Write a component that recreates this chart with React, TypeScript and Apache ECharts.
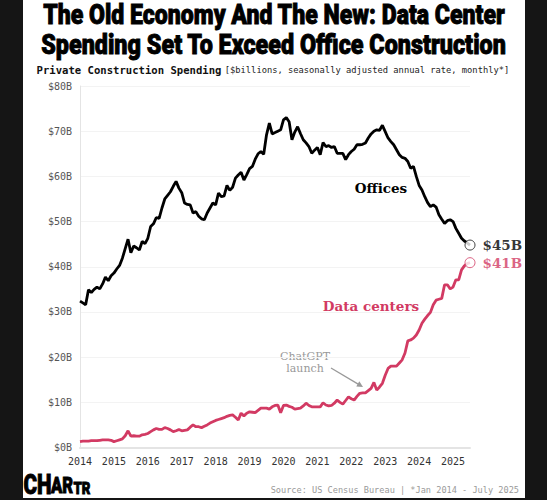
import React, { useEffect, useRef } from "react";
import * as echarts from "echarts";

const years = ["2014", "2015", "2016", "2017", "2018", "2019", "2020", "2021", "2022", "2023", "2024", "2025"];
const monthCodes = ["01", "02", "03", "04", "05", "06", "07", "08", "09", "10", "11", "12"];
const lastYear = "2025";
const lastMonthCount = 7;

// Private construction spending, $billions SAAR, Jan 2014 - Jul 2025
const offices = [
  32.4, 32.0, 31.6, 34.9, 34.3, 35.0, 35.5, 35.1, 36.2, 37.7, 36.9, 38.0,
  38.6, 39.5, 40.3, 41.9, 44.0, 46.1, 43.1, 44.6, 44.2, 43.7, 45.6, 45.1,
  46.3, 48.9, 49.5, 50.9, 50.7, 53.0, 55.0, 55.8, 56.6, 57.8, 58.9, 57.4,
  56.4, 54.1, 53.8, 53.7, 51.9, 52.2, 51.2, 50.6, 50.4, 51.9, 53.0, 54.1,
  53.7, 56.3, 55.5, 55.7, 58.0, 56.9, 57.6, 59.6, 60.3, 60.9, 59.2, 60.4,
  61.7, 62.2, 63.8, 65.0, 65.5, 64.9, 69.2, 71.8, 69.4, 69.7, 70.0, 70.3,
  72.5, 73.0, 72.1, 68.1, 69.8, 71.0, 69.5, 68.1, 67.4, 66.6, 65.1, 65.8,
  66.4, 64.8, 67.5, 66.6, 66.8, 66.4, 66.6, 65.1, 65.1, 65.1, 63.7, 64.8,
  65.5, 66.0, 67.0, 67.0, 67.1, 67.4, 68.5, 69.4, 70.0, 70.3, 70.2, 71.3,
  69.9, 68.5, 67.7, 67.0, 65.9, 64.8, 64.2, 64.0, 63.3, 61.8, 62.2, 60.0,
  58.0, 57.0, 55.5, 54.2, 53.3, 53.7, 53.2, 51.5, 50.5, 49.6, 50.2, 50.4,
  50.0, 48.5, 47.4, 46.3, 45.7, 45.3, 44.8,
];

const dataCenters = [
  1.3, 1.4, 1.4, 1.4, 1.5, 1.5, 1.5, 1.6, 1.7, 1.7, 1.7, 1.6,
  1.3, 1.5, 1.7, 1.9, 2.6, 3.7, 2.5, 2.6, 2.5, 2.5, 2.8, 2.9,
  3.1, 3.5, 3.9, 4.2, 4.0, 4.0, 4.4, 4.2, 3.9, 3.5, 3.7, 4.0,
  3.7, 3.8, 3.9, 4.5, 5.0, 4.6, 4.6, 4.4, 4.7, 5.0, 5.4, 5.7,
  6.0, 6.2, 6.4, 6.6, 6.9, 7.1, 7.2, 6.7, 6.1, 7.6, 7.0, 7.6,
  7.9, 7.8, 7.7, 8.2, 8.7, 8.7, 8.7, 8.5, 9.0, 9.3, 9.4, 7.7,
  9.3, 9.4, 9.1, 8.9, 8.5, 8.6, 8.7, 9.2, 9.8, 9.3, 9.0, 9.0,
  9.0, 9.0, 9.9, 9.4, 9.2, 9.3, 9.8, 10.5, 10.0, 9.6, 10.4, 11.2,
  10.8, 10.5, 11.3, 12.0, 12.1, 12.1, 12.6, 13.1, 14.4, 12.7, 13.4, 14.2,
  16.0, 17.5, 18.0, 18.0, 18.0, 18.7, 19.4, 20.9, 23.6, 23.8, 24.2, 24.9,
  26.0, 27.5, 28.4, 29.2, 29.9, 31.6, 32.6, 32.8, 33.0, 36.0, 36.0, 35.1,
  35.5, 37.1, 37.1, 39.3, 40.2, 40.7, 40.9,
];

const yTicks = [0, 10, 20, 30, 40, 50, 60, 70, 80];

const titleLines = [
  "The Old Economy And The New: Data Center",
  "Spending Set To Exceed Office Construction",
];
const subtitleBold = "Private Construction Spending";
const subtitleNote = "[$billions, seasonally adjusted annual rate, monthly*]";
const sourceText = "Source: US Census Bureau | *Jan 2014 - July 2025";

const PINK = "#d23a63";
const MONO = "'DejaVu Sans Mono', 'Liberation Mono', monospace";
const SERIF = "'DejaVu Serif', 'Liberation Serif', serif";
const HEAVY = "Roboto, 'Noto Sans', sans-serif";

const categories: string[] = [];
years.forEach((y) => {
  monthCodes.forEach((m, i) => {
    if (y === lastYear && i >= lastMonthCount) return;
    categories.push(`${y}-${m}`);
  });
});

export default function App() {
  const ref = useRef<HTMLDivElement>(null);

  useEffect(() => {
    if (!ref.current) return;
    const chart = echarts.init(ref.current, undefined, { renderer: "svg" });
    const last = categories.length - 1;

    const endLabel = (color: string) => ({
      show: true,
      position: "right",
      distance: 7,
      formatter: (p: any) => `$${Math.round(p.value[1])}B`,
      fontFamily: SERIF,
      fontWeight: "bold",
      fontSize: 13.5,
      color,
    });

    const heavyText = (text: string, size: number) => ({
      text,
      fontFamily: HEAVY,
      fontWeight: 900,
      fontSize: size,
      fill: "#000",
      stroke: "#000",
      lineWidth: 0.9,
    });

    chart.setOption({
      animation: false,
      backgroundColor: "transparent",
      grid: { left: 80, right: 77, top: 86, bottom: 52.5, containLabel: false, outerBoundsMode: "none" },
      xAxis: {
        type: "category",
        data: categories,
        boundaryGap: false,
        axisLine: { show: true, lineStyle: { color: "#e4e4e4", width: 2 } },
        axisTick: { show: false },
        splitLine: { show: false },
        axisLabel: {
          interval: (index: number) => index % 12 === 0,
          formatter: (v: string) => v.slice(0, 4),
          fontFamily: MONO,
          fontSize: 10,
          color: "#333",
          margin: 9,
        },
      },
      yAxis: {
        type: "value",
        min: yTicks[0],
        max: yTicks[yTicks.length - 1],
        interval: 10,
        axisLine: { show: true, lineStyle: { color: "#e4e4e4", width: 1 } },
        axisTick: { show: false },
        splitLine: { show: true, lineStyle: { color: "#f3f3f3", width: 1 } },
        axisLabel: {
          formatter: (v: number) => `$${v}B`,
          fontFamily: MONO,
          fontSize: 10,
          color: "#555",
          margin: 8,
        },
      },
      series: [
        {
          name: "Offices",
          type: "line",
          data: offices,
          symbol: "none",
          lineStyle: { color: "#000", width: 2.8 },
          itemStyle: { color: "#000" },
          z: 3,
        },
        {
          name: "Data centers",
          type: "line",
          data: dataCenters,
          symbol: "none",
          lineStyle: { color: PINK, width: 2.8 },
          itemStyle: { color: PINK },
          z: 3,
        },
        {
          type: "scatter",
          data: [[categories[last], offices[last]]],
          symbol: "circle",
          symbolSize: 10,
          itemStyle: { color: "#fff", borderColor: "#111", borderWidth: 1 },
          label: endLabel("#000"),
          z: 5,
        },
        {
          type: "scatter",
          data: [[categories[last], dataCenters[last]]],
          symbol: "circle",
          symbolSize: 10,
          itemStyle: { color: "#fff", borderColor: PINK, borderWidth: 1 },
          label: endLabel(PINK),
          z: 5,
        },
      ],
      graphic: [
        {
          type: "text",
          x: 274,
          y: 15,
          scaleX: 0.855,
          style: { ...heavyText(titleLines[0], 27), align: "center", verticalAlign: "middle" },
        },
        {
          type: "text",
          x: 273.5,
          y: 44.5,
          scaleX: 0.865,
          style: { ...heavyText(titleLines[1], 27), align: "center", verticalAlign: "middle" },
        },
        {
          type: "text",
          x: 36.5,
          y: 70,
          style: {
            text: `{b|${subtitleBold}} {r|${subtitleNote}}`,
            verticalAlign: "middle",
            align: "left",
            rich: {
              b: { fontFamily: MONO, fontWeight: "bold", fontSize: 10.6, fill: "#111", color: "#111" },
              r: { fontFamily: MONO, fontSize: 8.75, fill: "#222", color: "#222" },
            },
          },
        },
        {
          type: "text",
          x: 381,
          y: 188,
          style: {
            text: "Offices",
            fontFamily: SERIF,
            fontWeight: "bold",
            fontSize: 13.5,
            fill: "#000",
            align: "center",
            verticalAlign: "middle",
          },
        },
        {
          type: "text",
          x: 371,
          y: 306,
          style: {
            text: "Data centers",
            fontFamily: SERIF,
            fontWeight: "bold",
            fontSize: 13.5,
            fill: PINK,
            align: "center",
            verticalAlign: "middle",
          },
        },
        {
          type: "text",
          x: 305,
          y: 362.5,
          style: {
            text: "ChatGPT\nlaunch",
            fontFamily: SERIF,
            fontSize: 11,
            lineHeight: 12,
            fill: "#999",
            align: "center",
            verticalAlign: "middle",
          },
        },
        {
          type: "line",
          shape: { x1: 331, y1: 368, x2: 359, y2: 384.6 },
          style: { stroke: "#999", lineWidth: 1.3 },
        },
        {
          type: "polygon",
          shape: { points: [[363, 387], [356.3, 386.5], [359.3, 381.3]] },
          style: { fill: "#999" },
        },
        {
          type: "text",
          x: 519,
          y: 489.5,
          style: {
            text: sourceText,
            fontFamily: MONO,
            fontSize: 8.6,
            fill: "#9a9a9a",
            align: "right",
            verticalAlign: "middle",
          },
        },
        {
          type: "text",
          x: 23.5,
          y: 498,
          scaleX: 0.74,
          style: { ...heavyText("CH", 28), align: "left", verticalAlign: "bottom" },
        },
        {
          type: "text",
          x: 51,
          y: 497.3,
          scaleX: 0.74,
          style: { ...heavyText("AR", 22.5), align: "left", verticalAlign: "bottom" },
        },
        {
          type: "text",
          x: 73.5,
          y: 496.8,
          scaleX: 0.78,
          style: { ...heavyText("TR", 17), align: "left", verticalAlign: "bottom" },
        },
      ],
    });

    return () => chart.dispose();
  }, []);

  return (
    <div style={{ position: "fixed", left: 0, top: 0, width: 547, height: 500, background: "#151515" }}>
      <div style={{ position: "absolute", left: 23, top: 0, width: 502, height: 498, background: "#fff" }} />
      <div ref={ref} style={{ position: "absolute", left: 0, top: 0, width: 547, height: 500 }} />
    </div>
  );
}
